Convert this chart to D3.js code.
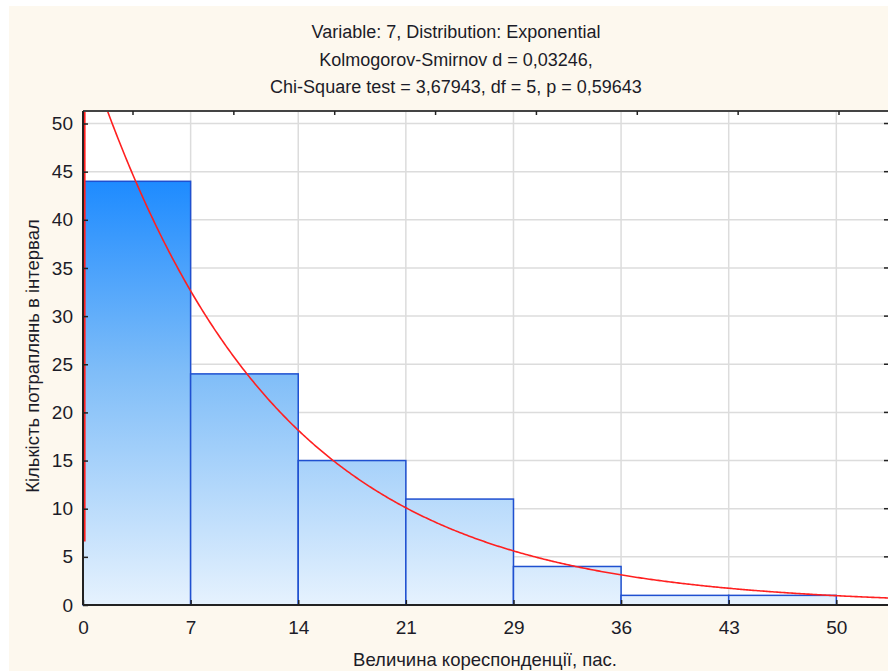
<!DOCTYPE html>
<html><head><meta charset="utf-8">
<script src="https://cdn.jsdelivr.net/npm/d3@7"></script>
<style>body{margin:0;background:#fff;} svg{display:block;}</style>
</head><body>
<script>
// ---- data ----
const binEdges = [0, 7.15, 14.3, 21.45, 28.6, 35.75, 42.9, 50.05];
const binCounts = [44, 24, 15, 11, 4, 1, 1];
const xTickLabels = ["0", "7", "14", "21", "29", "36", "43", "50"];
const yTicks = [0, 5, 10, 15, 20, 25, 30, 35, 40, 45, 50];
const titleLines = [
  "Variable: 7, Distribution: Exponential",
  "Kolmogorov-Smirnov d = 0,03246,",
  "Chi-Square test = 3,67943, df = 5, p = 0,59643"
];
const fitN = 100, fitLambda = 0.082;
const curveStart = [0.12, 6.6];
const xLabel = "Величина кореспонденції, пас.";
const yLabel = "Кількість потраплянь в інтервал";

const W = 888, H = 671;
const m = {left: 83, top: 111, right: 889, bottom: 605};
const svg = d3.select("body").append("svg").attr("width", W).attr("height", H);

svg.append("rect").attr("x", 9).attr("y", 6).attr("width", W).attr("height", H).attr("fill", "#fdf8ee");

const x = d3.scaleLinear().domain([0, 53.55]).range([m.left, 889]);
const y = d3.scaleLinear().domain([0, 51.3]).range([m.bottom, m.top]);

svg.append("rect").attr("x", m.left).attr("y", m.top).attr("width", m.right - m.left).attr("height", m.bottom - m.top).attr("fill", "#fff");

// gradient
const defs = svg.append("defs");
const grad = defs.append("linearGradient").attr("id", "bg").attr("gradientUnits", "userSpaceOnUse")
  .attr("x1", 0).attr("x2", 0).attr("y1", y(44)).attr("y2", y(0));
grad.append("stop").attr("offset", "0%").attr("stop-color", "#1e8bff");
grad.append("stop").attr("offset", "45%").attr("stop-color", "#7fbdf8");
grad.append("stop").attr("offset", "100%").attr("stop-color", "#e6f2fe");
defs.append("clipPath").attr("id", "clip").append("rect")
  .attr("x", m.left).attr("y", m.top).attr("width", m.right - m.left).attr("height", m.bottom - m.top);

// grid
const g = svg.append("g");
g.selectAll(".gy").data(yTicks.slice(1)).join("line")
  .attr("x1", m.left).attr("x2", m.right).attr("y1", d => y(d)).attr("y2", d => y(d))
  .attr("stroke", "#dcdcdc").attr("stroke-width", 1.5);
g.selectAll(".gx").data(binEdges.slice(1)).join("line")
  .attr("y1", m.top).attr("y2", m.bottom).attr("x1", d => x(d)).attr("x2", d => x(d))
  .attr("stroke", "#dcdcdc").attr("stroke-width", 1.5);

// bars
const bins = binCounts.map((c, i) => ({x0: binEdges[i], x1: binEdges[i + 1], c}));
svg.selectAll(".bar").data(bins).join("rect")
  .attr("x", d => x(d.x0)).attr("y", d => y(d.c))
  .attr("width", d => x(d.x1) - x(d.x0)).attr("height", d => y(0) - y(d.c))
  .attr("fill", "url(#bg)").attr("stroke", "#1f50d0").attr("stroke-width", 1.5);

// fitted curve
const w = binEdges[1] - binEdges[0];
const pts = [curveStart];
for (let v = curveStart[0]; v <= 53.6; v += 0.1) pts.push([v, fitN * w * fitLambda * Math.exp(-fitLambda * v)]);
svg.append("path").datum(pts).attr("clip-path", "url(#clip)")
  .attr("d", d3.line().x(d => x(d[0])).y(d => y(d[1])))
  .attr("fill", "none").attr("stroke", "#ff2020").attr("stroke-width", 1.6);

// frame / axes
svg.append("line").attr("x1", m.left).attr("x2", m.right).attr("y1", m.top).attr("y2", m.top).attr("stroke", "#444").attr("stroke-width", 2);
svg.append("line").attr("x1", m.left).attr("x2", m.right).attr("y1", m.bottom).attr("y2", m.bottom).attr("stroke", "#222").attr("stroke-width", 2);
svg.append("line").attr("x1", m.left).attr("x2", m.left).attr("y1", m.top).attr("y2", m.bottom).attr("stroke", "#222").attr("stroke-width", 2);

const font = "'Liberation Sans', Arial, sans-serif";
const txt = "#1c1c28";
const xAxis = d3.axisBottom(x).tickValues(binEdges).tickFormat((d, i) => xTickLabels[i]).tickSize(-5).tickPadding(16);
const gxA = svg.append("g").attr("transform", `translate(0,${m.bottom})`).call(xAxis);
const yAxis = d3.axisLeft(y).tickValues(yTicks).tickSize(-5).tickPadding(10);
const gyA = svg.append("g").attr("transform", `translate(${m.left},0)`).call(yAxis);
[gxA, gyA].forEach(a => {
  a.select(".domain").remove();
  a.selectAll(".tick line").attr("stroke", "#222").attr("stroke-width", 1.5);
  a.selectAll("text").attr("font-family", font).attr("font-size", 19).attr("fill", txt);
});
// right side ticks
svg.selectAll(".rt").data(yTicks.slice(1)).join("line")
  .attr("x1", 884).attr("x2", 889).attr("y1", d => y(d)).attr("y2", d => y(d)).attr("stroke", "#222").attr("stroke-width", 1.5);
// top ticks
const xt = d3.scaleLinear().domain([0, 7]).range([133, 839]);
svg.selectAll(".tt").data(d3.range(8)).join("line")
  .attr("x1", d => xt(d)).attr("x2", d => xt(d)).attr("y1", m.top).attr("y2", m.top + 4).attr("stroke", "#222").attr("stroke-width", 1.5);

// titles
svg.selectAll(".title").data(titleLines).join("text")
  .attr("x", 456).attr("y", (d, i) => 38 + i * 27.5).attr("text-anchor", "middle")
  .attr("font-family", font).attr("font-size", 18).attr("fill", txt).text(d => d);

svg.append("text").attr("x", 485).attr("y", 666).attr("text-anchor", "middle")
  .attr("font-family", font).attr("font-size", 18.5).attr("fill", txt).text(xLabel);
svg.append("text").attr("transform", "translate(39,356) rotate(-90)").attr("text-anchor", "middle")
  .attr("font-family", font).attr("font-size", 18.5).attr("fill", txt).text(yLabel);
</script>
</body></html>
